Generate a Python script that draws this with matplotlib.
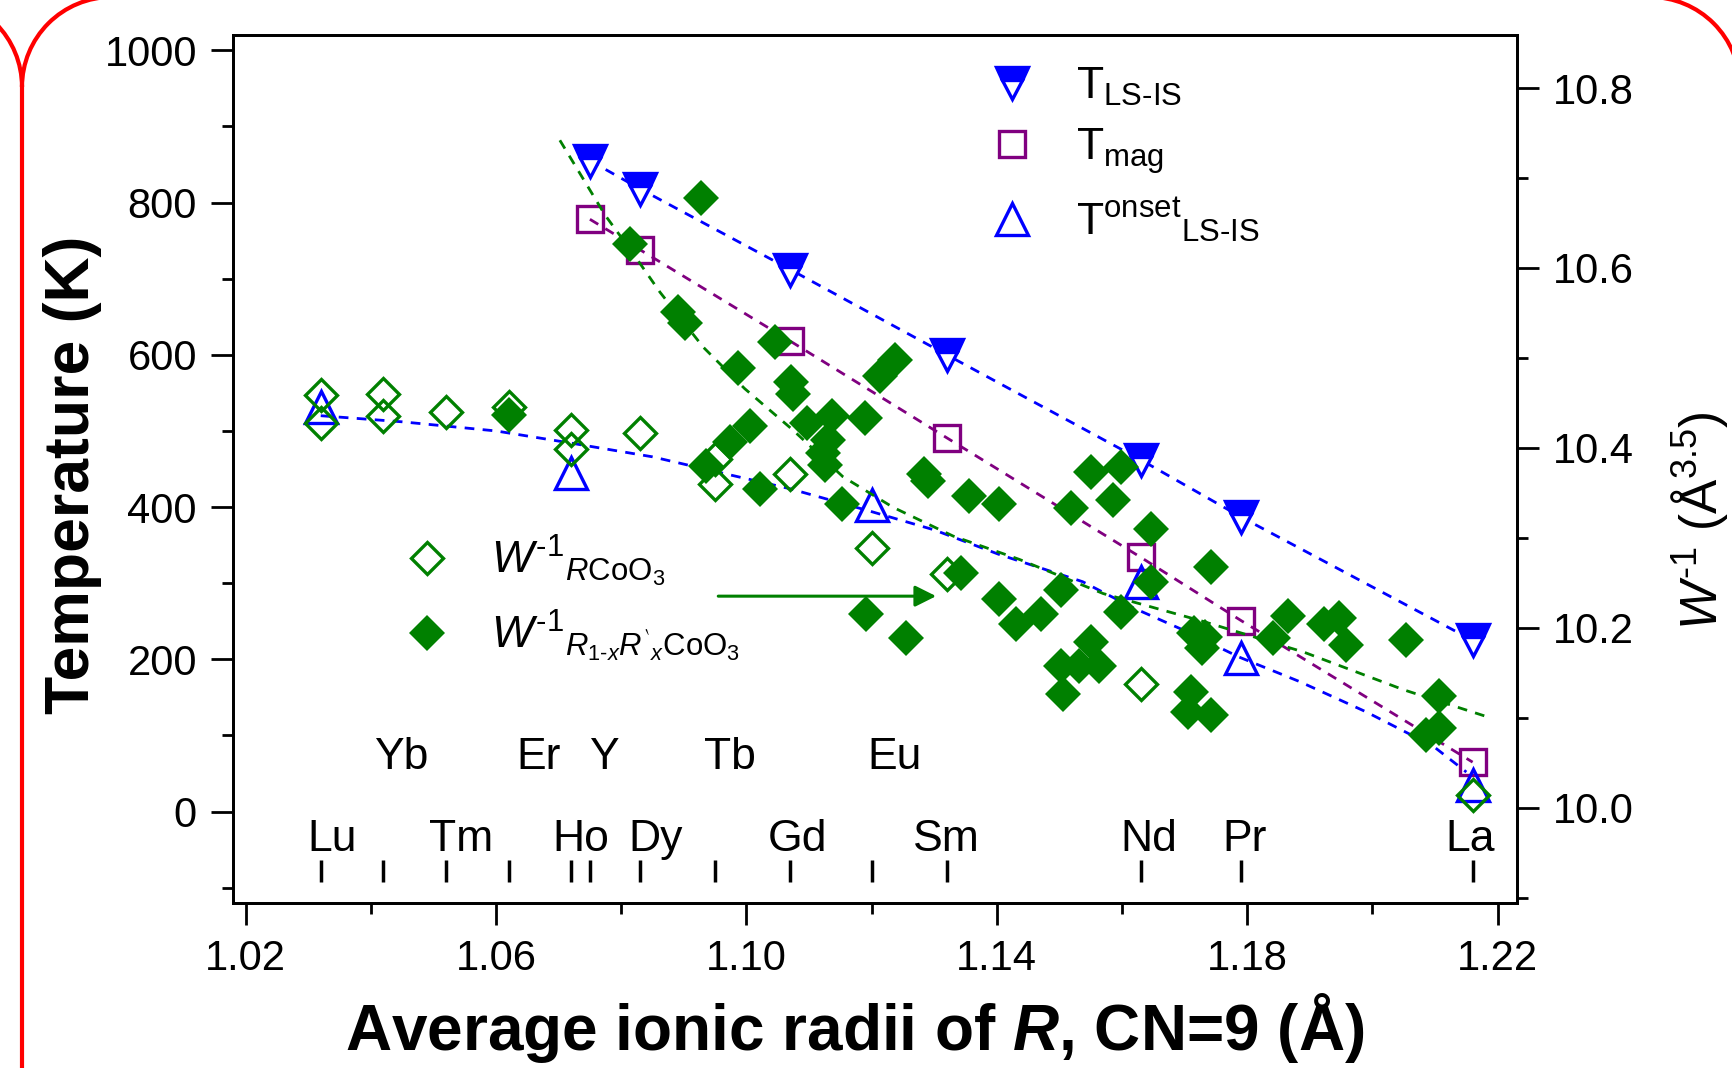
import numpy as np
import matplotlib.pyplot as plt
from matplotlib.lines import Line2D
from matplotlib.patches import Arc
from matplotlib.ticker import MultipleLocator

plt.rcParams['font.family'] = ['Liberation Sans', 'DejaVu Sans']
plt.rcParams['mathtext.fontset'] = 'custom'
plt.rcParams['mathtext.rm'] = 'Liberation Sans'
plt.rcParams['mathtext.it'] = 'Liberation Sans:italic'
plt.rcParams['mathtext.bf'] = 'Liberation Sans:bold'
plt.rcParams['mathtext.bfit'] = 'Liberation Sans:bold:italic'

# colori
BLUE = '#0000ff'
PURPLE = '#800080'
GREEN = '#008000'
RED = '#ff0000'

# transizioni (asse sinistro, K)
r_ls = [1.075, 1.083, 1.107, 1.132, 1.163, 1.179, 1.216]
T_ls = [855, 818, 712, 600, 462, 387, 225]

r_mag = [1.075, 1.083, 1.107, 1.132, 1.163, 1.179, 1.216]
T_mag = [778, 738, 618, 491, 334, 251, 65]

r_onset = [1.032, 1.072, 1.120, 1.163, 1.179, 1.216]
T_onset = [532, 445, 403, 302, 202, 35]

# curva guida per T_onset
r_onset_fit = [1.032, 1.045, 1.060, 1.072, 1.085, 1.097, 1.107, 1.120, 1.130,
               1.1403, 1.1537, 1.1617, 1.1702, 1.1787, 1.1883, 1.1990, 1.2097, 1.2150]
T_onset_fit = [520, 512, 500, 484, 466, 443, 424, 394, 370,
               338, 302, 268, 237, 203, 171, 131, 86, 52]

# W^-1 per RCoO3 (asse destro)
r_w_pure = [1.032, 1.032, 1.042, 1.042, 1.052, 1.062, 1.072, 1.072, 1.083,
            1.095, 1.095, 1.107, 1.120, 1.132, 1.163, 1.216]
w_pure = [10.459, 10.428, 10.460, 10.435, 10.440, 10.446, 10.420, 10.399, 10.416,
          10.388, 10.360, 10.371, 10.289, 10.260, 10.137, 10.014]

# W^-1 per R1-xR'xCoO3 (asse destro)
r_w_mix = [1.0927, 1.0814, 1.0891, 1.0902, 1.1045, 1.0987, 1.1071, 1.1074, 1.1096,
           1.1136, 1.1130, 1.1122, 1.1125, 1.1190, 1.1213, 1.1238, 1.1005, 1.0973,
           1.0935, 1.1021, 1.1153, 1.1283, 1.1290, 1.1356, 1.1404, 1.1343, 1.1404,
           1.1191, 1.1255, 1.1430, 1.1470, 1.1502, 1.1518, 1.1550, 1.1598, 1.1585,
           1.1646, 1.1742, 1.1646, 1.1598, 1.1715, 1.1733, 1.1728, 1.1865, 1.1923,
           1.1947, 1.1958, 1.1841, 1.2054, 1.1550, 1.1502, 1.1531, 1.1563, 1.1505,
           1.1710, 1.1705, 1.1742, 1.2107, 1.2107, 1.2086, 1.062]
w_mix = [10.678, 10.627, 10.551, 10.539, 10.518, 10.489, 10.473, 10.460, 10.428,
         10.435, 10.409, 10.394, 10.381, 10.433, 10.480, 10.498, 10.424, 10.407,
         10.380, 10.354, 10.338, 10.371, 10.363, 10.347, 10.338, 10.261, 10.232,
         10.215, 10.189, 10.204, 10.215, 10.242, 10.333, 10.373, 10.379, 10.342,
         10.310, 10.268, 10.251, 10.217, 10.194, 10.190, 10.177, 10.213, 10.204,
         10.211, 10.181, 10.189, 10.186, 10.184, 10.158, 10.158, 10.158, 10.126,
         10.129, 10.106, 10.103, 10.124, 10.089, 10.081, 10.436]

# curva guida verde (asse destro)
r_w_fit = [1.0702, 1.0774, 1.0819, 1.0862, 1.0931, 1.0997, 1.1074, 1.1154, 1.1234,
           1.1330, 1.1436, 1.1570, 1.1730, 1.1890, 1.2050, 1.2179]
w_fit = [10.742, 10.659, 10.616, 10.573, 10.512, 10.466, 10.420, 10.368, 10.334,
         10.302, 10.276, 10.238, 10.207, 10.173, 10.131, 10.102]

# freccia (asse sinistro)
arrow_r = [1.0955, 1.1303]
arrow_T = 283

# raggi ionici degli elementi
elements = ['Lu', 'Yb', 'Tm', 'Er', 'Ho', 'Y', 'Dy', 'Tb', 'Gd', 'Eu', 'Sm', 'Nd', 'Pr', 'La']
elem_r = [1.032, 1.042, 1.052, 1.062, 1.072, 1.075, 1.083, 1.095, 1.107, 1.120, 1.132, 1.163, 1.179, 1.216]
low_labels = ['Lu', 'Tm', 'Ho', 'Dy', 'Gd', 'Sm', 'Nd', 'Pr', 'La']
low_label_r = [1.0338, 1.0544, 1.0735, 1.0855, 1.1081, 1.1319, 1.1642, 1.1796, 1.2156]
up_labels = ['Yb', 'Er', 'Y', 'Tb', 'Eu']
up_label_r = [1.0449, 1.0668, 1.0772, 1.0973, 1.1236]

fig = plt.figure(figsize=(17.33, 10.68), dpi=100)
ax = fig.add_axes([0.1345, 0.1545, 0.7409, 0.8127])
ax2 = ax.twinx()

ax.set_xlim(1.018, 1.2231)
ax.set_ylim(-120, 1020)
ax2.set_ylim(9.894, 10.859)

dash = (3.5, 3)
lw = 2.0
mew_open = 2.4

ax.plot(r_ls, T_ls, color=BLUE, lw=lw, dashes=dash, zorder=2)
ax.plot(r_mag, T_mag, color=PURPLE, lw=lw, dashes=dash, zorder=2)
ax.plot(r_onset_fit, T_onset_fit, color=BLUE, lw=lw, dashes=dash, zorder=2)
ax2.plot(r_w_fit, w_fit, color=GREEN, lw=lw, dashes=dash, zorder=2)

ax.plot(r_ls, T_ls, ls='none', marker='v', ms=23, color=BLUE, fillstyle='top',
        markerfacecoloralt='white', mew=mew_open, zorder=4)
ax.plot(r_mag, T_mag, ls='none', marker='s', ms=19, mfc='none', mec=PURPLE, mew=mew_open, zorder=4)
ax.plot(r_onset, T_onset, ls='none', marker='^', ms=23, mfc='none', mec=BLUE, mew=mew_open, zorder=4)

ax2.plot(r_w_mix, w_mix, ls='none', marker='D', ms=18, color=GREEN, mew=0, zorder=3)
ax2.plot(r_w_pure, w_pure, ls='none', marker='D', ms=16, mfc='none', mec=GREEN, mew=mew_open, zorder=4)

ax.annotate('', xy=(arrow_r[1], arrow_T), xytext=(arrow_r[0], arrow_T),
            arrowprops=dict(arrowstyle='-|>', color=GREEN, lw=2.2, mutation_scale=32,
                            shrinkA=0, shrinkB=0))

# etichette degli elementi e tacche
ax.vlines(elem_r, -93, -63, color='black', lw=2.5)
for name, r in zip(low_labels, low_label_r):
    ax.text(r, -37, name, ha='center', va='center', fontsize=32)
for name, r in zip(up_labels, up_label_r):
    ax.text(r, 71, name, ha='center', va='center', fontsize=32)

# assi
for a in (ax, ax2):
    for s in a.spines.values():
        s.set_linewidth(2)
ax.xaxis.set_minor_locator(MultipleLocator(0.02))
ax.yaxis.set_major_locator(MultipleLocator(200))
ax.yaxis.set_minor_locator(MultipleLocator(100))
ax2.yaxis.set_minor_locator(MultipleLocator(0.1))
ax.set_xticks(np.arange(1.02, 1.2201, 0.04))
ax.set_xticklabels(['1.02', '1.06', '1.10', '1.14', '1.18', '1.22'])
ax2.set_yticks([10.0, 10.2, 10.4, 10.6, 10.8])
ax2.set_yticklabels(['10.0', '10.2', '10.4', '10.6', '10.8'])

ax.tick_params(axis='both', which='major', direction='out', length=16, width=2,
               labelsize=30, pad=10)
ax.tick_params(axis='both', which='minor', direction='out', length=8, width=2)
ax2.tick_params(axis='y', which='major', direction='out', length=16, width=2,
                labelsize=30, pad=10)
ax2.tick_params(axis='y', which='minor', direction='out', length=8, width=2)

ax.set_ylabel('Temperature (K)', fontsize=45, fontweight='bold')
ax.yaxis.set_label_coords(-0.125, 0.493)
ax.yaxis.label.set_va('center')
ax.set_xlabel(r'Average ionic radii of $\mathbfit{R}$, CN=9 (Å)', fontsize=46, fontweight='bold')
ax.xaxis.set_label_coords(0.4844, -0.144)
ax.xaxis.label.set_va('center')
ax2.set_ylabel(r'$W^{\text{-}1}$ (Å$^{3.5}$)', fontsize=37, rotation=90)
ax2.yaxis.set_label_coords(1.142, 0.441)
ax2.yaxis.label.set_va('center')

# legende
h1 = [Line2D([], [], ls='none', marker='v', ms=23, color=BLUE, fillstyle='top',
             markerfacecoloralt='white', mew=mew_open),
      Line2D([], [], ls='none', marker='s', ms=19, mfc='none', mec=PURPLE, mew=mew_open),
      Line2D([], [], ls='none', marker='^', ms=23, mfc='none', mec=BLUE, mew=mew_open)]
l1 = [r'T$_{\mathrm{LS\text{-}IS}}$', r'T$_{\mathrm{mag}}$',
      r'T$^{\mathrm{onset}}{}_{\mathrm{LS\text{-}IS}}$']
leg1 = ax2.legend(h1, l1, loc='upper left', bbox_to_anchor=(0.5896, 0.965), frameon=False,
                  fontsize=32, handlelength=1.0, handletextpad=0.93, labelspacing=0.42,
                  borderpad=0, borderaxespad=0)
ax2.add_artist(leg1)

h2 = [Line2D([], [], ls='none', marker='D', ms=16, mfc='none', mec=GREEN, mew=mew_open),
      Line2D([], [], ls='none', marker='D', ms=18, color=GREEN, mew=0)]
l2 = [r'$W^{\text{-}1}{}_{R\mathrm{CoO}_3}$',
      r'$W^{\text{-}1}{}_{R_{1\text{-}x}R^{\backprime}{}_{x}\mathrm{CoO}_3}$']
ax2.legend(h2, l2, loc='upper left', bbox_to_anchor=(0.134, 0.427), frameon=False,
           fontsize=32, handlelength=1.0, handletextpad=0.93, labelspacing=0.45,
           borderpad=0, borderaxespad=0)

# bordo rosso
t = fig.dpi_scale_trans
fig.add_artist(Line2D([0.22, 0.22], [0, (1068 - 87) / 100], color=RED, lw=3, transform=t))
fig.add_artist(Arc((1.12, (1068 - 87) / 100), 1.8, 1.8, theta1=90, theta2=180,
                   color=RED, lw=3, transform=t))
fig.add_artist(Arc((-0.68, (1068 - 87) / 100), 1.8, 1.8, theta1=0, theta2=90,
                   color=RED, lw=3, transform=t))
fig.add_artist(Arc((16.50, (1068 - 87) / 100), 1.8, 1.8, theta1=0, theta2=90,
                   color=RED, lw=3, transform=t))

fig.savefig('out.png', dpi=100)
